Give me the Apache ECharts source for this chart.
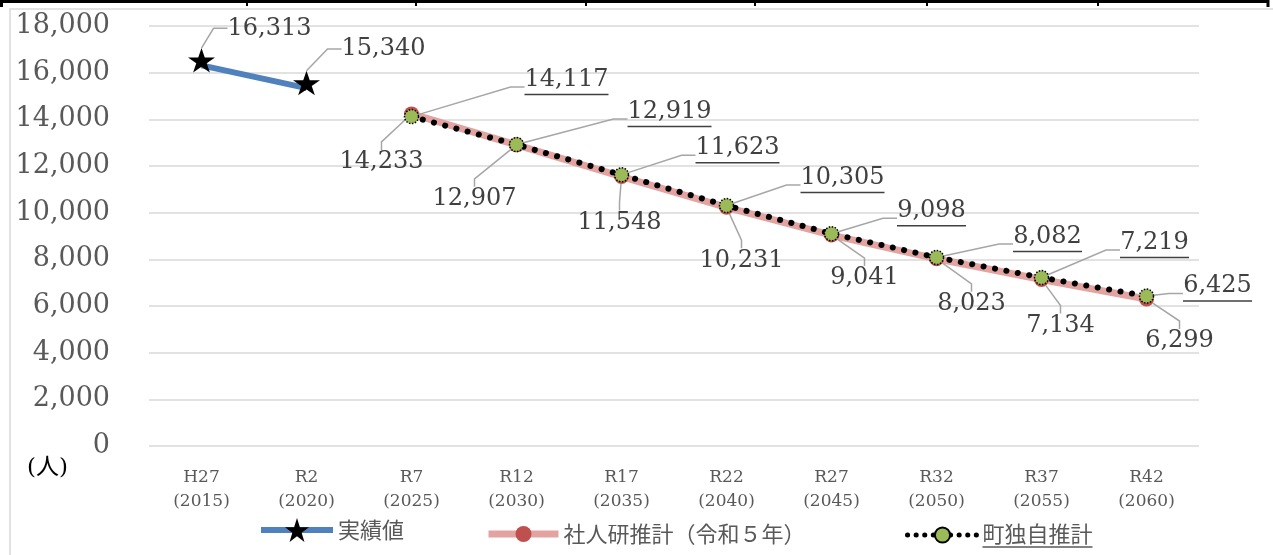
<!DOCTYPE html>
<html>
<head>
<meta charset="utf-8">
<script src="https://cdn.jsdelivr.net/npm/echarts@6/dist/echarts.min.js"></script>
<style>
  html, body { margin: 0; padding: 0; background: #fff; }
  #chart { width: 1273px; height: 555px; }
</style>
</head>
<body>
<div id="chart"></div>
<script>
// categories and values
var categories = ['H27\n(2015)', 'R2\n(2020)', 'R7\n(2025)', 'R12\n(2030)', 'R17\n(2035)',
                  'R22\n(2040)', 'R27\n(2045)', 'R32\n(2050)', 'R37\n(2055)', 'R42\n(2060)'];
var actualValues = [16313, 15340, null, null, null, null, null, null, null, null];
var ipssValues   = [null, null, 14233, 12907, 11548, 10231, 9041, 8023, 7134, 6299];
var townValues   = [null, null, 14117, 12919, 11623, 10305, 9098, 8082, 7219, 6425];
var seriesNames  = ['実績値', '社人研推計（令和５年）', '町独自推計'];
var yMin = 0, yMax = 18000, yStep = 2000;

// label offsets from each point (px), like the callouts in the original
var actualLabelOffsets = [[68, -32], [77, -34]];
var ipssLabelOffsets = [null, null, [-30, 48], [-42, 54], [-2, 46], [15, 53], [33, 43], [35, 45], [19, 46], [33, 42]];
var townLabelOffsets = [null, null, [155, -36], [153, -32], [116, -26], [116, -27], [100, -22], [111, -20], [113, -34], [71, -9]];

var serifFont = 'DejaVu Serif';
var cjkFont = 'Noto Sans CJK JP';
var labelColor = '#404040';
var starPath = 'path://M50,0 L61.8,35.1 L98.8,35.1 L68.9,56.9 L80.3,91.9 L50,70.2 L19.7,91.9 L31.1,56.9 L1.2,35.1 L38.2,35.1 Z';

var measureCtx = document.createElement('canvas').getContext('2d');
function textWidth(text, font) {
  measureCtx.font = font;
  return Math.round(measureCtx.measureText(text).width);
}

function fmt(v) {
  return echarts.format.addCommas(v);
}

function placeLabel(offsets) {
  return function (p) {
    var o = offsets[p.dataIndex];
    if (!o) return {};
    return {
      x: p.rect.x + p.rect.width / 2 + o[0],
      y: p.rect.y + p.rect.height / 2 + o[1],
      align: 'center',
      verticalAlign: 'middle'
    };
  };
}

var leaderLine = { show: true, length2: 14, lineStyle: { color: '#a6a6a6', width: 1.5 } };
var legendText = { fontFamily: cjkFont, fontSize: 22, color: '#595959' };

var myChart = echarts.init(document.getElementById('chart'));

var option = {
  animation: false,
  backgroundColor: '#fff',
  grid: { left: 149, right: 74, top: 26, bottom: 109, outerBoundsMode: 'none' },
  xAxis: {
    type: 'category',
    data: categories,
    boundaryGap: true,
    axisLine: { show: false },
    axisTick: { show: false },
    axisLabel: { color: '#595959', fontFamily: serifFont, fontSize: 17, lineHeight: 24, margin: 20 }
  },
  yAxis: {
    type: 'value',
    min: yMin,
    max: yMax,
    interval: yStep,
    axisLine: { show: false },
    axisTick: { show: false },
    axisLabel: {
      color: '#595959', fontFamily: serifFont, fontSize: 27, margin: 39,
      formatter: function (v) { return fmt(v); }
    },
    splitLine: { lineStyle: { color: '#d9d9d9', width: 1.5 } }
  },
  legend: [
    {
      data: [seriesNames[0]], left: 258, top: 518, padding: 0,
      itemWidth: 72, itemHeight: 30,
      lineStyle: { width: 6 },
      textStyle: legendText
    },
    {
      data: [seriesNames[1]], left: 485, top: 523, padding: 0,
      itemWidth: 70, itemHeight: 20,
      lineStyle: { width: 7 },
      textStyle: legendText
    },
    {
      data: [seriesNames[2]], left: 905, top: 523, padding: 0,
      itemWidth: 70, itemHeight: 19,
      lineStyle: { width: 5, type: [0.1, 8.5], cap: 'round' },
      formatter: function (name) { return '{a|' + name + '}\n{u| }'; },
      textStyle: {
        fontFamily: cjkFont, fontSize: 22, color: '#595959',
        rich: {
          a: { fontFamily: cjkFont, fontSize: 22, color: '#595959', lineHeight: 24 },
          u: { width: textWidth(seriesNames[2], '22px "' + cjkFont + '"'), height: 1.5, lineHeight: 2, backgroundColor: '#595959' }
        }
      }
    }
  ],
  graphic: [
    // frame of the chart area
    { type: 'rect', shape: { x: 10, y: 9, width: 1300, height: 600 }, style: { fill: 'none', stroke: '#d9d9d9', lineWidth: 1.5 }, z: -10 },
    // table border above the chart
    { type: 'polyline', shape: { points: [[1.5, 7], [1.5, 1.5], [1268, 1.5], [1268, 7]] }, style: { fill: 'none', stroke: '#000', lineWidth: 3 } },
    { type: 'line', shape: { x1: 247, y1: 0, x2: 247, y2: 6 }, style: { stroke: '#000', lineWidth: 2 } },
    { type: 'line', shape: { x1: 416, y1: 0, x2: 416, y2: 6 }, style: { stroke: '#000', lineWidth: 2 } },
    { type: 'line', shape: { x1: 586, y1: 0, x2: 586, y2: 6 }, style: { stroke: '#000', lineWidth: 2 } },
    { type: 'line', shape: { x1: 755, y1: 0, x2: 755, y2: 6 }, style: { stroke: '#000', lineWidth: 2 } },
    { type: 'line', shape: { x1: 927, y1: 0, x2: 927, y2: 6 }, style: { stroke: '#000', lineWidth: 2 } },
    { type: 'line', shape: { x1: 1098, y1: 0, x2: 1098, y2: 6 }, style: { stroke: '#000', lineWidth: 2 } },
    // unit
    { type: 'text', left: 27, top: 457, style: { text: '(人)', fill: '#000', font: '23px "DejaVu Serif", "Noto Sans CJK JP"' } }
  ],
  series: [
    {
      name: seriesNames[0],
      type: 'line',
      data: actualValues,
      symbol: starPath,
      symbolSize: [27, 26],
      symbolKeepAspect: true,
      symbolOffset: [0, -5],
      lineStyle: { color: '#4f81bd', width: 6 },
      itemStyle: { color: '#000' },
      label: {
        show: true, color: labelColor, fontFamily: serifFont, fontSize: 24,
        formatter: function (p) { return fmt(p.value); }
      },
      labelLine: leaderLine,
      labelLayout: placeLabel(actualLabelOffsets),
      emphasis: { disabled: true },
      z: 3
    },
    {
      name: seriesNames[1],
      type: 'line',
      data: ipssValues,
      symbol: 'circle',
      symbolSize: 15,
      lineStyle: { color: '#e3a3a1', width: 7 },
      itemStyle: { color: '#c0504d' },
      label: {
        show: true, color: labelColor, fontFamily: serifFont, fontSize: 24,
        formatter: function (p) { return fmt(p.value); }
      },
      labelLine: { show: true, length2: 8, lineStyle: { color: '#a6a6a6', width: 1.5 } },
      labelLayout: placeLabel(ipssLabelOffsets),
      emphasis: { disabled: true },
      z: 2
    },
    {
      name: seriesNames[2],
      type: 'line',
      data: townValues,
      symbol: 'circle',
      symbolSize: 14,
      lineStyle: { color: '#000', width: 6, type: [0.1, 11.5], cap: 'round' },
      itemStyle: { color: '#9bbb59', borderColor: '#000', borderWidth: 1.5, borderType: 'dotted' },
      label: {
        show: true, color: labelColor, fontFamily: serifFont, fontSize: 24,
        formatter: function (p) {
          var t = fmt(p.value);
          return '{a|' + t + '}\n{u' + t.length + '| }';
        },
        rich: {
          a: { color: labelColor, fontFamily: serifFont, fontSize: 24, lineHeight: 28 },
          u5: { width: textWidth('8,082', '24px "' + serifFont + '"'), height: 1.5, lineHeight: 2, backgroundColor: '#404040' },
          u6: { width: textWidth('14,117', '24px "' + serifFont + '"'), height: 1.5, lineHeight: 2, backgroundColor: '#404040' }
        }
      },
      labelLine: leaderLine,
      labelLayout: placeLabel(townLabelOffsets),
      emphasis: { disabled: true },
      z: 4
    }
  ]
};

myChart.setOption(option);
</script>
</body>
</html>
